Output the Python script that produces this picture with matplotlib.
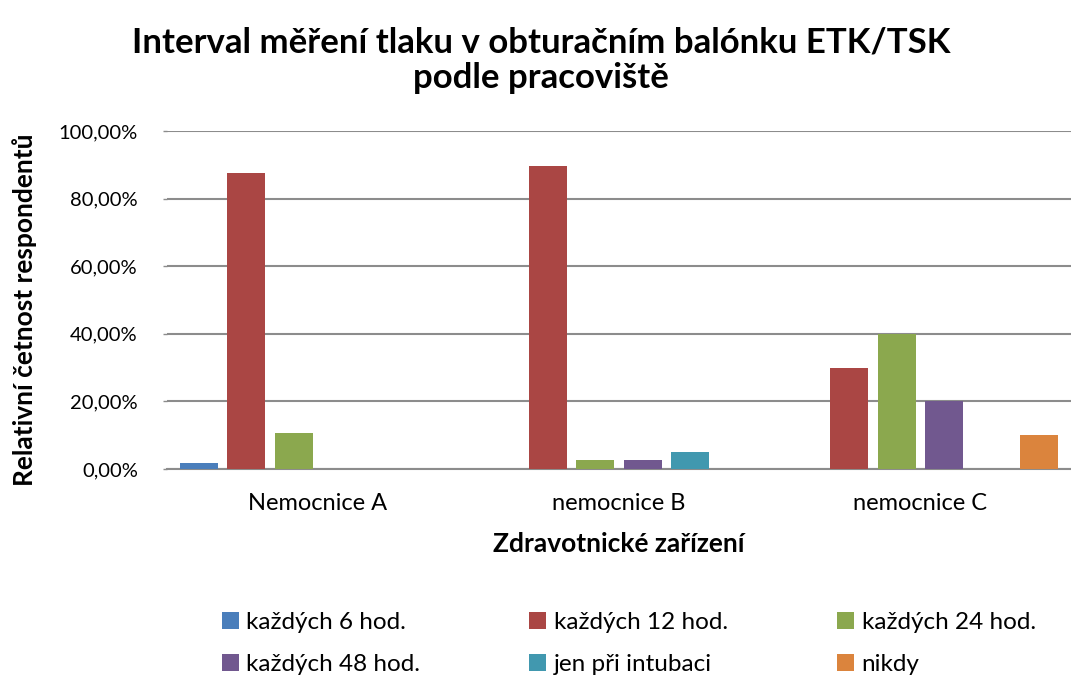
import numpy as np
import matplotlib.pyplot as plt
from matplotlib.ticker import FuncFormatter

plt.rcParams['font.family'] = ['Lato', 'DejaVu Sans']

# data (percent of respondents)
categories = ['Nemocnice A', 'nemocnice B', 'nemocnice C']
series = ['každých 6 hod.', 'každých 12 hod.', 'každých 24 hod.',
          'každých 48 hod.', 'jen při intubaci', 'nikdy']
values = {
    'každých 6 hod.':   [1.75, 0.0, 0.0],
    'každých 12 hod.':  [87.72, 89.74, 30.0],
    'každých 24 hod.':  [10.53, 2.56, 40.0],
    'každých 48 hod.':  [0.0, 2.56, 20.0],
    'jen při intubaci': [0.0, 5.13, 0.0],
    'nikdy':            [0.0, 0.0, 10.0],
}
colors = ['#4A7EBB', '#AA4644', '#8BA84E', '#71588F', '#4198AF', '#DB843D']

fig = plt.figure(figsize=(10.71, 6.78), dpi=100)
ax = fig.add_axes([167/1071, 1 - 469/678, (1071 - 167)/1071, (469 - 131)/678])

x = np.arange(len(categories))
pitch = 0.158
width = 0.126
handles = []
for i, name in enumerate(series):
    vals = np.array(values[name])
    b = ax.bar(x + (i - 2.5) * pitch, vals, width, color=colors[i],
               label=name, zorder=3)
    handles.append(b)

ax.set_xlim(-0.5, 2.5)
ax.set_ylim(0, 100)
ax.set_yticks(np.arange(0, 101, 20))
ax.yaxis.set_major_formatter(FuncFormatter(lambda v, p: f'{v:.2f}%'.replace('.', ',')))
ax.set_xticks(x)
ax.set_xticklabels(categories)
ax.tick_params(axis='x', length=0, labelsize=17, colors='black', pad=17)
ax.tick_params(axis='y', length=3, width=1, color='#8C8C8C', labelcolor='black',
               labelsize=14.5, pad=18)
ax.grid(axis='y', color='#8C8C8C', linewidth=1.5, zorder=0)
for s in ['top', 'right', 'left']:
    ax.spines[s].set_visible(False)
ax.spines['bottom'].set_color('#8C8C8C')
ax.spines['bottom'].set_linewidth(1.5)

ax.set_xlabel('Zdravotnické zařízení', fontsize=19, fontweight='bold', labelpad=13)
ax.set_ylabel('Relativní četnost respondentů', fontsize=19, fontweight='bold')
ax.yaxis.set_label_coords(-0.144, 0.47)

fig.text(0.505, 0.9115, 'Interval měření tlaku v obturačním balónku ETK/TSK\npodle pracoviště',
         ha='center', va='center', fontsize=25, fontweight='bold', linespacing=1.15)

order = [0, 3, 1, 4, 2, 5]
fig.legend([handles[i] for i in order], [series[i] for i in order],
           ncol=3, loc='center', bbox_to_anchor=(0.587, 0.051), frameon=False,
           fontsize=17.5, handlelength=0.7, handleheight=0.7, handletextpad=0.3,
           columnspacing=4.5, labelspacing=0.85)

fig.savefig('out.png', dpi=100)
